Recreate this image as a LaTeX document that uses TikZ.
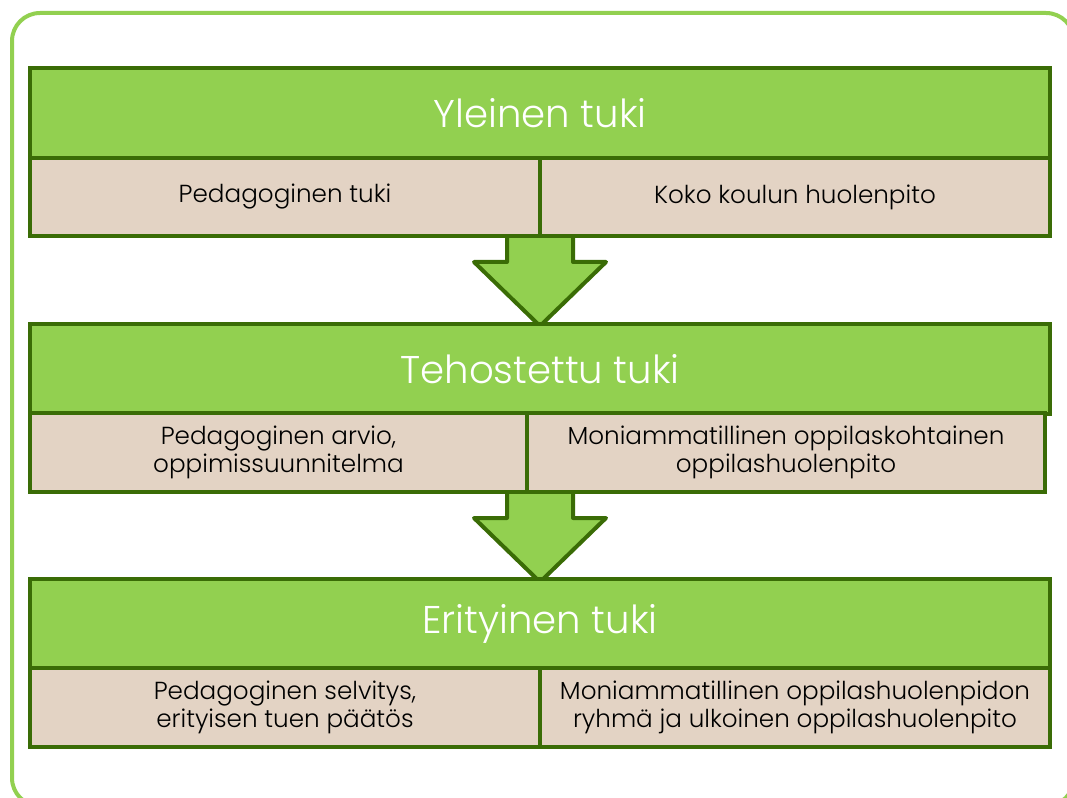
\documentclass[tikz,border=0pt]{standalone}
\usepackage{fontspec}
\setmainfont{Poppins}[UprightFont=* Light]
\usepackage{tikz}
\definecolor{lightgreen}{RGB}{146,208,80}
\definecolor{darkgreen}{RGB}{58,108,6}
\definecolor{tan}{RGB}{227,211,196}

\begin{document}
\begin{tikzpicture}[x=0.75pt, y=-0.75pt,
	level/.style={draw=darkgreen, line width=3pt, fill=lightgreen, text=white, font=\fontsize{29}{35}\selectfont, minimum width=765pt, minimum height=67.5pt, inner sep=0pt},
	part/.style={draw=darkgreen, line width=3pt, fill=tan, text=black, font=\fontsize{18.5}{21}\selectfont, align=center, minimum height=59pt, inner sep=0pt},
	blockarrow/.style={draw=darkgreen, line width=3pt, fill=lightgreen, line join=round}]
	\clip (0,0) rectangle (1067,798);
	\draw[lightgreen, line width=3pt, rounded corners=21pt] (12,13) rectangle (1074,806);
	% arrows behind the boxes
	\draw[blockarrow] (507,230) -- (573,230) -- (573,262) -- (606,262) -- (540,326) -- (474,262) -- (507,262) -- cycle;
	\draw[blockarrow] (507,486) -- (573,486) -- (573,518) -- (606,518) -- (540,582) -- (474,518) -- (507,518) -- cycle;
	% general support
	\node[level] (yleinen) at (540,113) {Yleinen tuki};
	\node[part, minimum width=382.5pt] (yleinenL) at (285,197) {Pedagoginen tuki};
	\node[part, minimum width=382.5pt] (yleinenR) at (795,197) {Koko koulun huolenpito};
	% intensified support
	\node[level] (tehostettu) at (540,369) {Tehostettu tuki};
	\node[part, minimum width=372.75pt] (tehostettuL) at (278.5,452.5) {Pedagoginen arvio,\\oppimissuunnitelma};
	\node[part, minimum width=388.5pt] (tehostettuR) at (786,452.5) {Moniammatillinen oppilaskohtainen\\oppilashuolenpito};
	% special support
	\node[level] (erityinen) at (540,624) {Erityinen tuki};
	\node[part, minimum width=382.5pt] (erityinenL) at (285,707.5) {Pedagoginen selvitys,\\erityisen tuen päätös};
	\node[part, minimum width=382.5pt] (erityinenR) at (795,707.5) {Moniammatillinen oppilashuolenpidon\\ryhmä ja ulkoinen oppilashuolenpito};
\end{tikzpicture}
\end{document}
